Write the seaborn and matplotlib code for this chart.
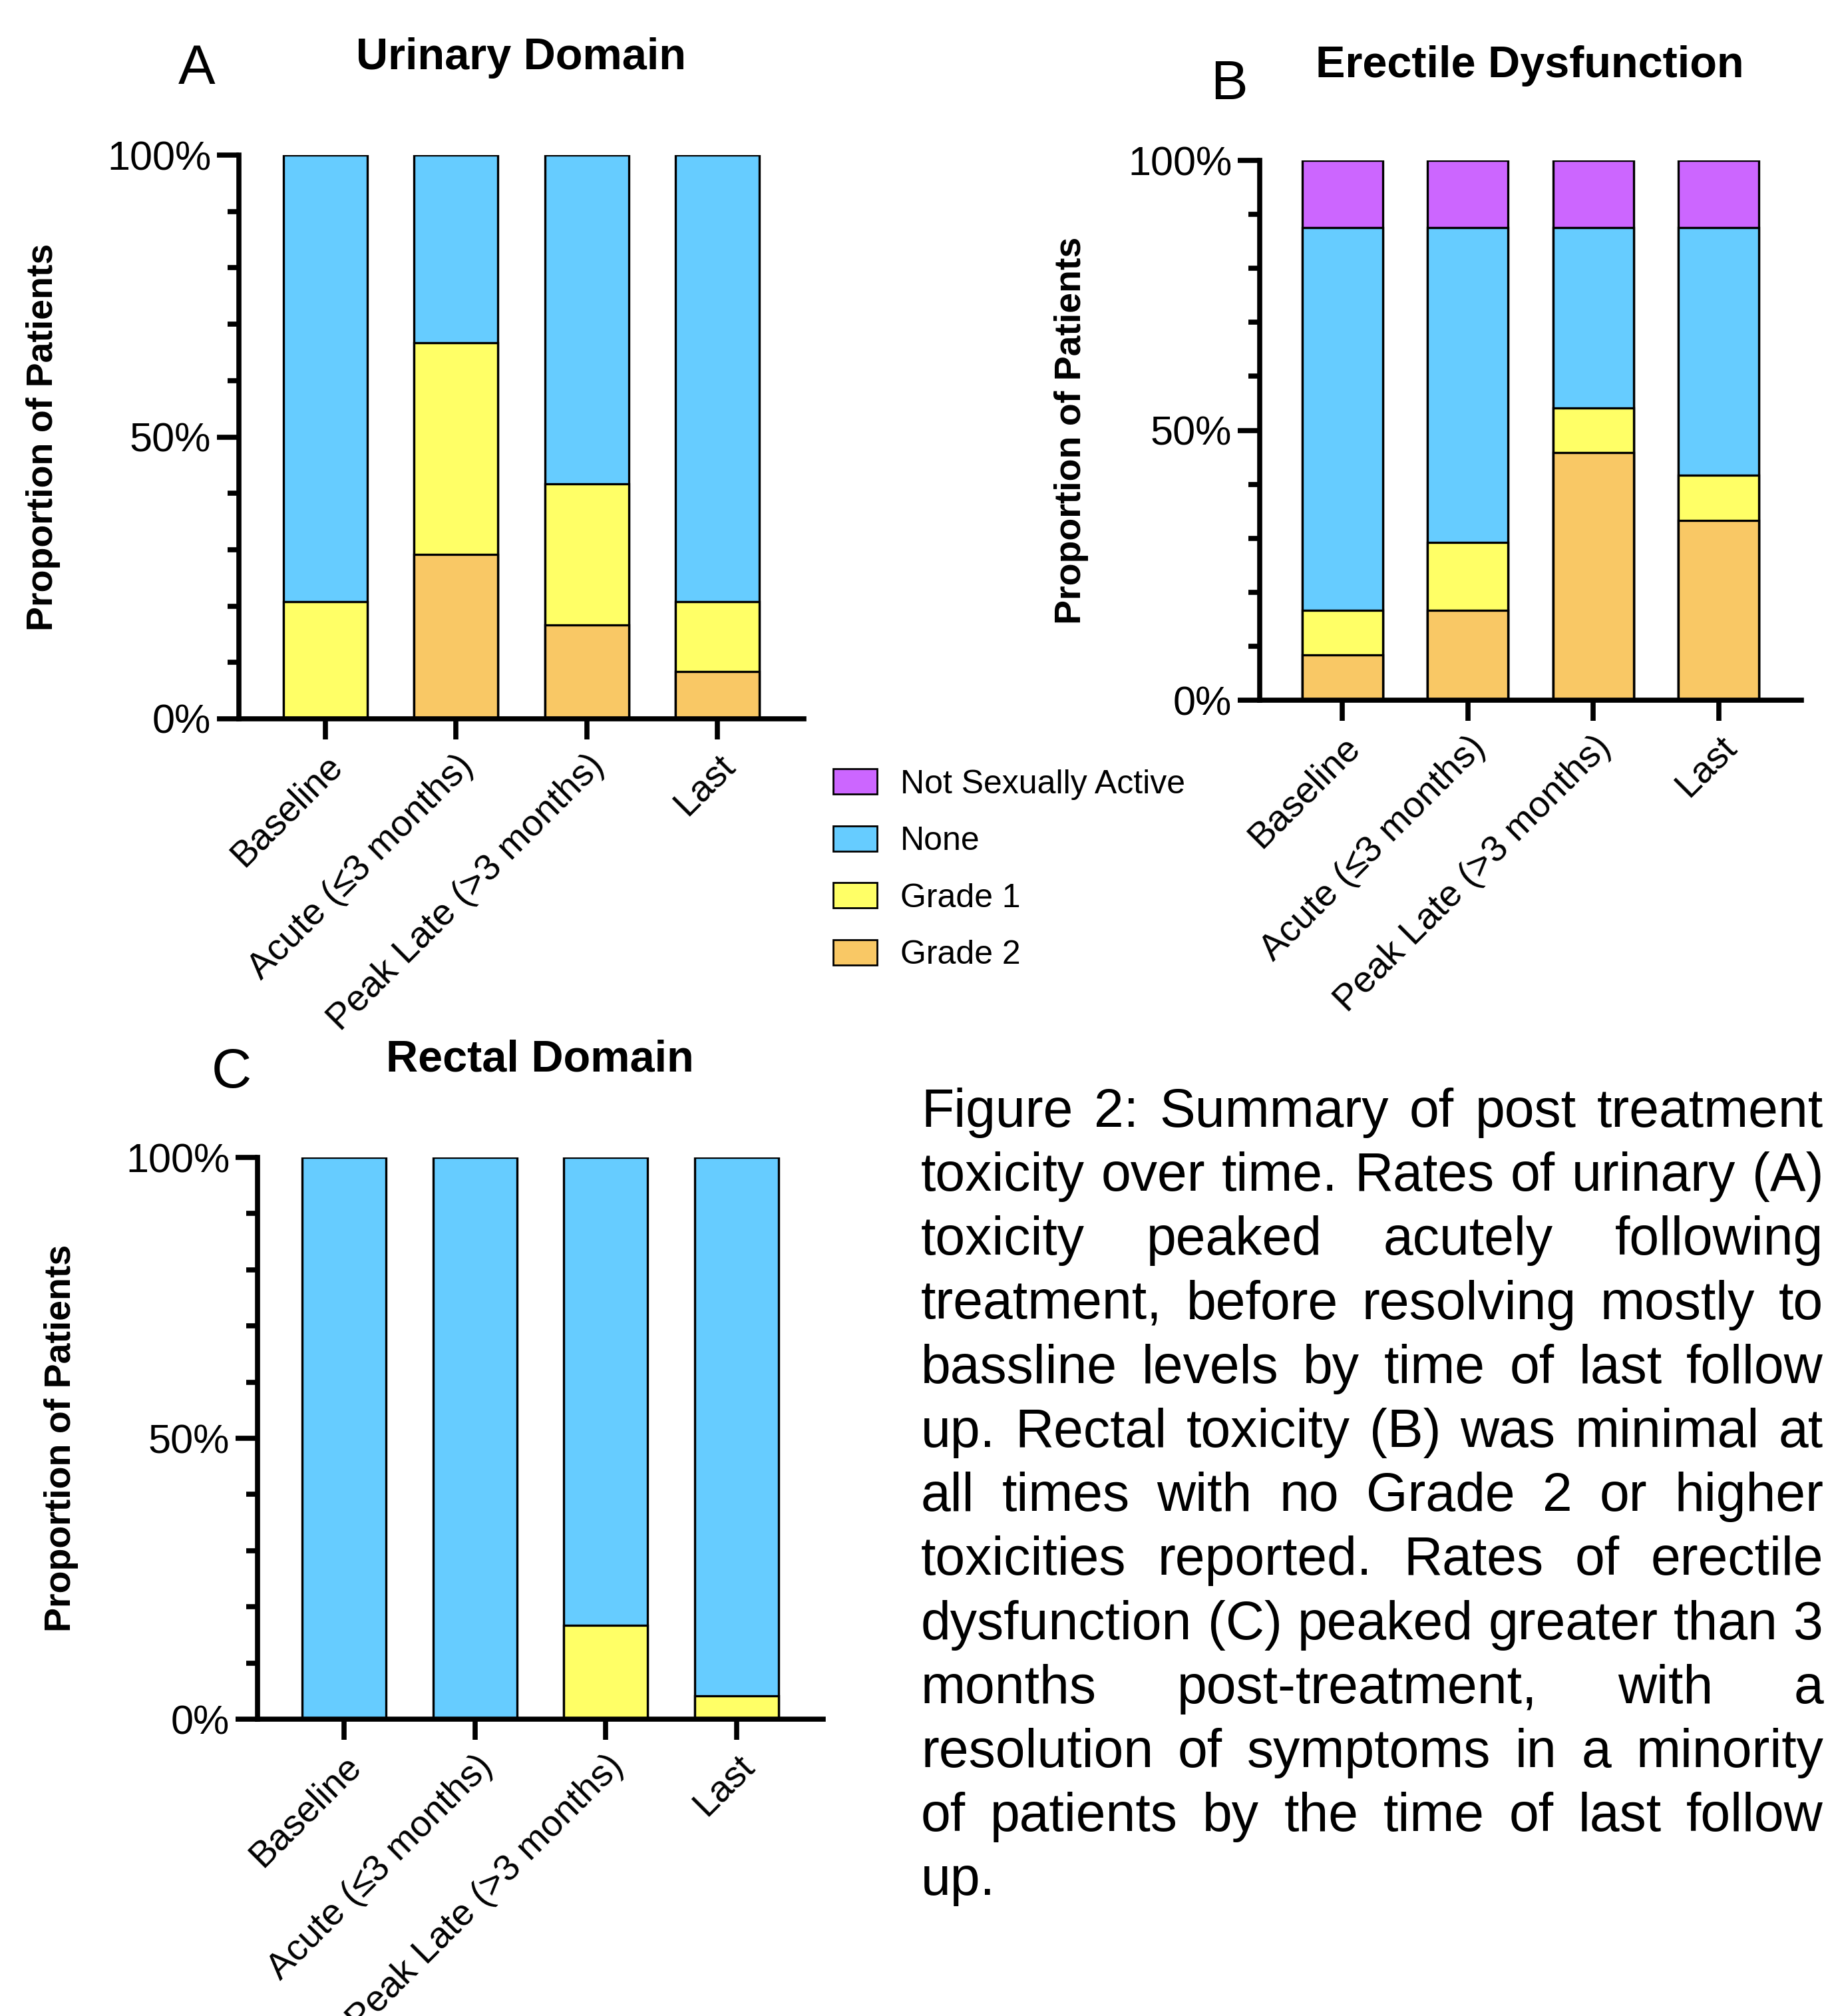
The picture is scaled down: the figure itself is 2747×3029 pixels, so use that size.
import numpy as np
import matplotlib
matplotlib.use("Agg")
import matplotlib.pyplot as plt
import seaborn as sns
from matplotlib.patches import Patch
from matplotlib.ticker import FixedLocator, MultipleLocator

sns.set_style("ticks")
plt.rcParams['font.family'] = ['Liberation Sans', 'DejaVu Sans']
for k in ["text.color", "axes.labelcolor", "xtick.color", "ytick.color", "axes.edgecolor"]:
    plt.rcParams[k] = "black"

# time points (x axis)
timepoints = ["Baseline", "Acute (\u22643 months)", "Peak Late (>3 months)", "Last"]

# Urinary domain (% of patients)
urinary_grade2 = [0.0, 29.17, 16.67, 8.33]
urinary_grade1 = [20.83, 37.5, 25.0, 12.5]
urinary_none = [79.17, 33.33, 58.33, 79.17]

# Erectile dysfunction (% of patients)
ed_grade2 = [8.33, 16.67, 45.83, 33.33]
ed_grade1 = [8.33, 12.5, 8.33, 8.33]
ed_none = [70.84, 58.33, 33.34, 45.84]
ed_not_active = [12.5, 12.5, 12.5, 12.5]

# Rectal domain (% of patients)
rectal_grade1 = [0.0, 0.0, 16.67, 4.17]
rectal_none = [100.0, 100.0, 83.33, 95.83]

legend_labels = ["Not Sexually Active", "None", "Grade 1", "Grade 2"]
colors = {"Not Sexually Active": "#CC66FF", "None": "#66CCFF",
          "Grade 1": "#FFFF66", "Grade 2": "#F9C865"}

caption_lines = [
    "Figure 2: Summary of post treatment",
    "toxicity over time. Rates of urinary (A)",
    "toxicity peaked acutely following",
    "treatment, before resolving mostly to",
    "bassline levels by time of last follow",
    "up. Rectal toxicity (B) was minimal at",
    "all times with no Grade 2 or higher",
    "toxicities reported. Rates of erectile",
    "dysfunction (C) peaked greater than 3",
    "months post-treatment, with a",
    "resolution of symptoms in a minority",
    "of patients by the time of last follow",
    "up.",
]

W, H = 2747, 3029
fig = plt.figure(figsize=(W / 100, H / 100), dpi=100)


def px_axes(left, top, right, bottom):
    return fig.add_axes([left / W, 1 - bottom / H, (right - left) / W, (bottom - top) / H])


def stacked(ax, layers):
    # layers bottom -> top; draw cumulative totals, largest first
    tots = np.cumsum([v for _, v in layers], axis=0)
    for (name, _), tot in reversed(list(zip(layers, tots))):
        sns.barplot(x=timepoints, y=tot, color=colors[name], saturation=1,
                    width=0.64, edgecolor="black", linewidth=2.4,
                    errorbar=None, ax=ax)


def style(ax):
    ax.set_xlim(-0.66, 3.66)
    ax.set_ylim(0, 100)
    sns.despine(ax=ax)
    for s in ["left", "bottom"]:
        ax.spines[s].set_linewidth(5.5)
        ax.spines[s].set_color("black")
    ax.yaxis.set_major_locator(FixedLocator([0, 50, 100]))
    ax.set_yticklabels(["0%", "50%", "100%"])
    ax.yaxis.set_minor_locator(MultipleLocator(10))
    ax.tick_params(axis="y", which="major", direction="out", length=24, width=5.5,
                   labelsize=44, pad=6, color="black", labelcolor="black")
    ax.tick_params(axis="y", which="minor", direction="out", length=12, width=5.5, color="black")
    ax.tick_params(axis="x", direction="out", length=22, width=5.5, labelsize=40, pad=10,
                   color="black", labelcolor="black")
    for lab in ax.get_xticklabels():
        lab.set_rotation(45)
        lab.set_ha("right")
        lab.set_va("top")
        lab.set_rotation_mode("anchor")
    ax.set_xlabel("")
    ax.set_ylabel("Proportion of Patients", fontsize=40, fontweight="bold", color="black")
    ax.yaxis.set_label_coords(-0.316, 0.5)


axA = px_axes(359, 233, 1208, 1080)
stacked(axA, [("Grade 2", urinary_grade2), ("Grade 1", urinary_grade1), ("None", urinary_none)])
style(axA)

axB = px_axes(1893, 241, 2707, 1052)
stacked(axB, [("Grade 2", ed_grade2), ("Grade 1", ed_grade1), ("None", ed_none),
              ("Not Sexually Active", ed_not_active)])
style(axB)

axC = px_axes(387, 1739, 1237, 2583)
stacked(axC, [("Grade 1", rectal_grade1), ("None", rectal_none)])
style(axC)

# panel letters and titles
for txt, x, y in [("A", 296, 126), ("B", 1847, 149), ("C", 348, 1634)]:
    fig.text(x / W, 1 - y / H, txt, fontsize=60, ha="center", va="baseline")
for txt, x, y in [("Urinary Domain", 783, 104), ("Erectile Dysfunction", 2299, 116),
                  ("Rectal Domain", 811, 1609)]:
    fig.text(x / W, 1 - y / H, txt, fontsize=48, fontweight="bold", ha="center", va="baseline")

# legend
handles = [Patch(facecolor=colors[k], edgecolor="black", linewidth=2) for k in legend_labels]
fig.legend(handles, legend_labels, loc="upper left", bbox_to_anchor=(1252 / W, 1 - 1155 / H),
           frameon=False, fontsize=36, handlelength=1.32, handleheight=0.8,
           handletextpad=0.7, labelspacing=0.78, borderpad=0, borderaxespad=0)

# justified caption
cap_size = 58
x_left, x_right = 1384, 2740
y0, dy = 1693, 96.2
fig.canvas.draw()
renderer = fig.canvas.get_renderer()
for i, line in enumerate(caption_lines):
    y = 1 - (y0 + i * dy) / H
    words = line.split()
    if i == len(caption_lines) - 1 or len(words) == 1:
        fig.text(x_left / W, y, line, fontsize=cap_size, ha="left", va="baseline")
        continue
    widths = []
    for w in words:
        t = fig.text(0, 0, w, fontsize=cap_size)
        widths.append(t.get_window_extent(renderer).width)
        t.remove()
    gap = (x_right - x_left - sum(widths)) / (len(words) - 1)
    x = x_left
    for w, wd in zip(words, widths):
        fig.text(x / W, y, w, fontsize=cap_size, ha="left", va="baseline")
        x += wd + gap

fig.savefig("out.png", dpi=100)
